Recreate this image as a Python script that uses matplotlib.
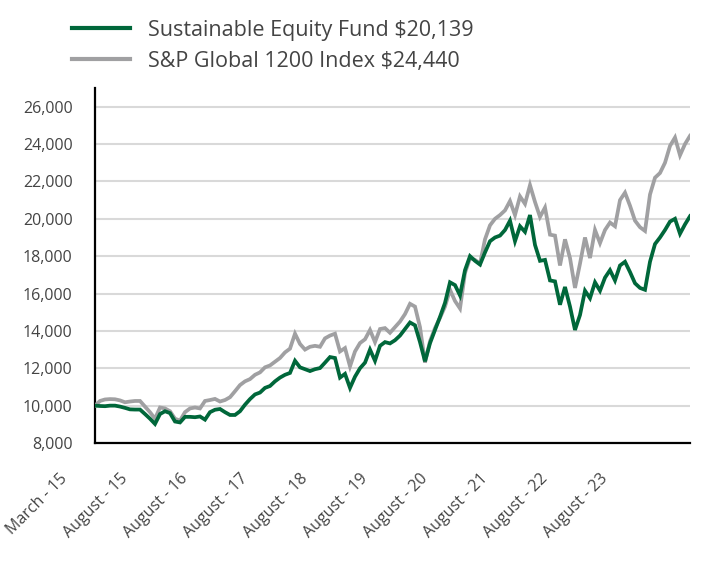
import numpy as np
import matplotlib.pyplot as plt
from matplotlib.ticker import FuncFormatter
import matplotlib.transforms as mtransforms

plt.rcParams['font.family'] = ['Open Sans', 'DejaVu Sans']

# growth of $10,000, one value per month
fund = [10000, 9980, 9970, 10000, 10000, 9950, 9880, 9800, 9790, 9790,
        9550, 9300, 9020, 9550, 9700, 9600, 9150, 9100, 9400, 9400,
        9380, 9420, 9250, 9650, 9780, 9820, 9650, 9500, 9500, 9700,
        10050, 10350, 10600, 10700, 10950, 11050, 11300, 11500, 11650, 11750,
        12400, 12050, 11950, 11850, 11950, 12010, 12300, 12600, 12550, 11500,
        11700, 10950, 11550, 12000, 12300, 13000, 12400, 13200, 13400, 13330,
        13500, 13750, 14100, 14450, 14300, 13400, 12370, 13340, 14050, 14750,
        15500, 16600, 16450, 15900, 17250, 18000, 17750, 17550, 18200, 18800,
        19000, 19100, 19400, 19900, 18800, 19600, 19300, 20200, 18600, 17750,
        17800, 16700, 16650, 15400, 16350, 15300, 14050, 14850, 16150, 15750,
        16600, 16150, 16850, 17250, 16700, 17500, 17700, 17150, 16550, 16300,
        16200, 17700, 18650, 19000, 19400, 19850, 20000, 19200, 19700, 20139]

index = [10000, 10250, 10330, 10350, 10340, 10280, 10180, 10220, 10250, 10250,
         9950, 9650, 9300, 9900, 9850, 9700, 9300, 9200, 9650, 9850,
         9900, 9850, 10250, 10300, 10360, 10220, 10300, 10450, 10770, 11100,
         11300, 11420, 11650, 11780, 12050, 12150, 12350, 12550, 12850, 13050,
         13850, 13300, 13000, 13150, 13200, 13150, 13600, 13750, 13850, 12900,
         13080, 12100, 12900, 13350, 13550, 14050, 13400, 14100, 14150, 13900,
         14200, 14500, 14900, 15450, 15300, 14200, 12300, 13450, 14150, 14700,
         15300, 16200, 15600, 15200, 17100, 17900, 17800, 17600, 18900, 19650,
         20000, 20200, 20450, 20950, 20200, 21200, 20800, 21800, 20900, 20100,
         20600, 19150, 19100, 17500, 18900, 17900, 16300, 17600, 19000, 17900,
         19400, 18700, 19400, 19800, 19600, 21000, 21400, 20700, 19900, 19550,
         19350, 21300, 22200, 22450, 23000, 23900, 24350, 23400, 24000, 24440]

tick_labels = ['March - 15', 'August - 15', 'August - 16', 'August - 17',
               'August - 18', 'August - 19', 'August - 20', 'August - 21',
               'August - 22', 'August - 23']

green = '#00673a'
grey = '#a0a0a2'
text_col = '#444444'

fig = plt.figure(figsize=(7.08, 5.76), dpi=100)
ax = fig.add_axes([95 / 708, 1 - 443 / 576, 595 / 708, 355 / 576])

x = np.arange(len(fund))
ax.plot(x, index, color=grey, lw=2.7, solid_joinstyle='miter',
        label='S&P Global 1200 Index $24,440', zorder=3)
ax.plot(x, fund, color=green, lw=2.7, solid_joinstyle='miter',
        label='Sustainable Equity Fund $20,139', zorder=4)

ax.set_xlim(0, len(fund) - 1)
ax.set_ylim(8000, 27000)
ax.set_yticks(np.arange(8000, 26001, 2000))
ax.yaxis.set_major_formatter(FuncFormatter(lambda v, p: f'{int(v):,}'))
ax.grid(axis='y', color='#d9d9d9', lw=1.5)
ax.set_axisbelow(True)

for s in ['top', 'right']:
    ax.spines[s].set_visible(False)
for s in ['left', 'bottom']:
    ax.spines[s].set_linewidth(1.6)
    ax.spines[s].set_color('black')

ax.tick_params(axis='y', length=0, pad=16, labelsize=11.5, labelcolor=text_col)
ax.tick_params(axis='x', length=0, pad=24, labelsize=11.5, labelcolor=text_col)

# one label every 12 months, text pushed left of its month
ax.set_xticks(np.arange(len(tick_labels)) * 12)
ax.set_xticklabels(tick_labels, rotation=45, ha='right', va='center',
                   rotation_mode='anchor')
shift = mtransforms.ScaledTranslation(-30 / 100, 0, fig.dpi_scale_trans)
for lab in ax.get_xticklabels():
    lab.set_transform(lab.get_transform() + shift)
    lab.set_clip_on(False)

handles, labels = ax.get_legend_handles_labels()
leg = fig.legend(handles[::-1], labels[::-1], loc='upper left',
                 bbox_to_anchor=(72 / 708, 1 - 20 / 576), frameon=False,
                 fontsize=15.5, handlelength=2.7, handletextpad=0.85,
                 labelspacing=0.45, borderpad=0, borderaxespad=0)
for t in leg.get_texts():
    t.set_color(text_col)
for h in leg.get_lines():
    h.set_linewidth(3)

fig.savefig('out.png', dpi=100)
